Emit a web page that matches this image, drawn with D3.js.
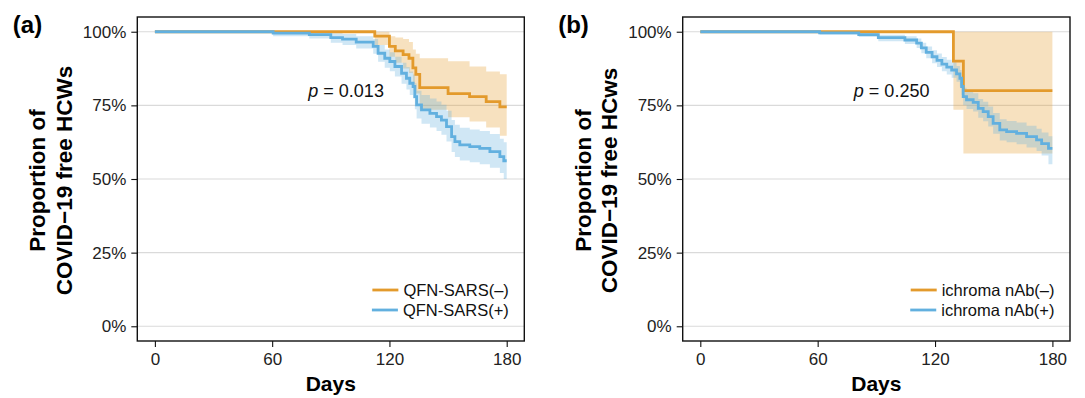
<!DOCTYPE html>
<html>
<head>
<meta charset="utf-8">
<script src="https://cdn.jsdelivr.net/npm/d3@7"></script>
<style>
  body { margin: 0; background: #fff; }
  svg { display: block; }
  text { font-family: 'Liberation Sans', Arial, sans-serif; }
</style>
</head>
<body>
<svg id="chart" width="1085" height="398"></svg>
<script>
// ---- data ----
const dayTicks = [0, 60, 120, 180];
const pctTicks = [0, 0.25, 0.5, 0.75, 1];
const groupNamesA = ['QFN-SARS(–)', 'QFN-SARS(+)'];
const groupNamesB = ['ichroma nAb(–)', 'ichroma nAb(+)'];
const pValues = ['0.013', '0.250'];

// (a) QFN-SARS(-)
const qfnNegDays  = [0, 112.5, 120, 123, 127, 130, 132, 133.5, 135.5, 150, 161, 169.5, 176.5];
const qfnNegSurv  = [1, .985, .95, .935, .922, .91, .877, .855, .81, .79, .78, .763, .745];
const qfnNegLower = [1, .955, .915, .895, .875, .86, .82, .79, .735, .71, .695, .675, .647];
const qfnNegUpper = [1, 1, .985, .98, .975, .965, .94, .925, .91, .90, .882, .865, .856];

// (a) QFN-SARS(+)
const qfnPosDays  = [0, 60.5, 79, 90, 96, 103, 111.7, 114.2, 117.6, 120.2, 122.8, 126.2, 128.7, 130.4, 132.1,
                     133, 133.9, 136.4, 140.7, 144.1, 146.6, 149.2, 151.8, 153.5, 156, 161.1, 166.2, 171.4, 176.5, 178.5];
const qfnPosSurv  = [1, .995, .99, .98, .975, .965, .95, .927, .91, .899, .882, .859, .842, .825, .814,
                     .78, .752, .735, .723, .712, .70, .678, .644, .627, .616, .61, .604, .593, .576, .562];
const qfnPosLower = [1, .985, .977, .963, .955, .943, .925, .898, .878, .866, .848, .823, .804, .785, .773,
                     .737, .705, .688, .675, .663, .65, .627, .592, .575, .563, .557, .55, .538, .52, .50];
const qfnPosUpper = [1, 1, 1, .995, .992, .985, .975, .955, .94, .93, .915, .895, .88, .865, .855,
                     .825, .80, .785, .773, .763, .752, .732, .70, .684, .674, .668, .663, .653, .637, .625];

// (b) ichroma nAb(-)
const nabNegDays  = [0, 129.4, 134.5];
const nabNegSurv  = [1, .9, .8];
const nabNegLower = [1, .735, .587];
const nabNegUpper = [1, 1, 1];

// (b) ichroma nAb(+)
const nabPosDays  = [0, 61, 81, 91, 104.6, 110.6, 113, 115.5, 118.5, 121, 123.5, 126, 128.5, 131, 132.7,
                     133.6, 134.4, 136.1, 139.5, 142.1, 144.6, 147.2, 149.7, 153.1, 156.6, 161.7, 166.8, 171.9, 174.5, 178];
const nabPosSurv  = [1, .996, .99, .98, .972, .961, .945, .93, .915, .903, .89, .88, .87, .857, .842,
                     .814, .78, .769, .76, .74, .729, .712, .689, .667, .661, .655, .644, .633, .62, .604];
const nabPosLower = [1, .99, .982, .968, .958, .945, .927, .91, .893, .88, .866, .855, .844, .83, .814,
                     .785, .75, .738, .729, .708, .696, .678, .654, .631, .625, .618, .607, .595, .58, .55];
const nabPosUpper = [1, 1, .998, .99, .985, .977, .963, .95, .937, .926, .914, .905, .896, .884, .87,
                     .843, .81, .80, .791, .772, .762, .746, .724, .703, .697, .692, .681, .671, .658, .645];

const colors = ['#E39A2C', '#62B0DF'];
const followUp = 180;

// zip the columns into step rows, closing each curve at end of follow-up
function steps(days, surv, lower, upper) {
  const rows = days.map((d, i) => ({ day: d, s: surv[i], lo: lower[i], hi: upper[i] }));
  rows.push({ ...rows[rows.length - 1], day: followUp });
  return rows;
}

const panels = [
  { tag: '(a)', left: 137.3, right: 524.3, yTitle: ['Proportion of', 'COVID−19 free HCWs'],
    names: groupNamesA, p: pValues[0],
    groups: [steps(qfnNegDays, qfnNegSurv, qfnNegLower, qfnNegUpper),
             steps(qfnPosDays, qfnPosSurv, qfnPosLower, qfnPosUpper)] },
  { tag: '(b)', left: 682.7, right: 1070, yTitle: ['Proportion of', 'COVID−19 free HCws'],
    names: groupNamesB, p: pValues[1],
    groups: [steps(nabNegDays, nabNegSurv, nabNegLower, nabNegUpper),
             steps(nabPosDays, nabPosSurv, nabPosLower, nabPosUpper)] },
];

const svg = d3.select('#chart');
const plotTop = 17, plotBottom = 341;
const y = d3.scaleLinear().domain([-0.05, 1.05]).range([plotBottom, plotTop]);

panels.forEach(p => {
  const x = d3.scaleLinear().domain([-9, 189]).range([p.left, p.right]);
  const g = svg.append('g');

  // horizontal gridlines
  g.append('g').attr('class', 'grid')
    .selectAll('line').data(pctTicks).join('line')
    .attr('x1', p.left).attr('x2', p.right)
    .attr('y1', d => y(d)).attr('y2', d => y(d))
    .attr('stroke', '#dadada').attr('stroke-width', 1.1);

  const area = d3.area().curve(d3.curveStepAfter)
    .x(d => x(d.day)).y0(d => y(d.lo)).y1(d => y(d.hi));
  const line = d3.line().curve(d3.curveStepAfter)
    .x(d => x(d.day)).y(d => y(d.s));

  p.groups.forEach((grp, i) => {
    g.append('path').attr('d', area(grp))
      .attr('fill', colors[i]).attr('fill-opacity', 0.3);
  });
  p.groups.forEach((grp, i) => {
    g.append('path').attr('d', line(grp))
      .attr('fill', 'none').attr('stroke', colors[i])
      .attr('stroke-width', 2.8);
  });

  // panel box
  g.append('rect')
    .attr('x', p.left).attr('y', plotTop)
    .attr('width', p.right - p.left).attr('height', plotBottom - plotTop)
    .attr('fill', 'none').attr('stroke', '#111').attr('stroke-width', 1.4);

  // axes
  const xAxis = g.append('g')
    .attr('transform', `translate(0,${plotBottom})`)
    .call(d3.axisBottom(x).tickValues(dayTicks).tickSize(6).tickPadding(6));
  const yAxis = g.append('g')
    .attr('transform', `translate(${p.left},0)`)
    .call(d3.axisLeft(y).tickValues(pctTicks).tickFormat(d3.format('.0%')).tickSize(6).tickPadding(5));
  [xAxis, yAxis].forEach(ax => {
    ax.select('.domain').remove();
    ax.attr('font-family', null).attr('font-size', null);
    ax.selectAll('line').attr('stroke', '#111').attr('stroke-width', 1.1);
    ax.selectAll('text').attr('fill', '#222').style('font-size', '17px');
  });

  // axis titles
  g.append('text')
    .attr('x', (p.left + p.right) / 2).attr('y', 391)
    .attr('text-anchor', 'middle')
    .style('font-size', '21px').style('font-weight', 'bold')
    .text('Days');
  p.yTitle.forEach((t, i) => {
    g.append('text')
      .attr('transform', `translate(${p.left - 92 + i * 26.5},180.5) rotate(-90)`)
      .attr('text-anchor', 'middle')
      .style('font-size', '22.5px').style('font-weight', 'bold')
      .text(t);
  });

  // panel tag
  g.append('text')
    .attr('x', p.left - 124.5).attr('y', 33)
    .style('font-size', '24px').style('font-weight', 'bold')
    .text(p.tag);

  // p-value
  const pt = g.append('text')
    .attr('x', x(78.5)).attr('y', y(0.8))
    .attr('dy', '0.35em')
    .style('font-size', '18px').attr('fill', '#111');
  pt.append('tspan').style('font-style', 'italic').text('p');
  pt.append('tspan').text(` = ${p.p}`);

  // legend (bottom-right inside the panel)
  const leg = g.append('g');
  p.names.forEach((name, i) => {
    const ly = 290 + i * 20;
    const txt = leg.append('text')
      .attr('x', p.right - 15.5).attr('y', ly)
      .attr('dy', '0.35em').attr('text-anchor', 'end')
      .style('font-size', '16.5px').attr('fill', '#111')
      .text(name);
    const w = txt.node().getComputedTextLength();
    const kx = p.right - 15.5 - w - 5;
    leg.append('line')
      .attr('x1', kx - 26).attr('x2', kx)
      .attr('y1', ly).attr('y2', ly)
      .attr('stroke', colors[i]).attr('stroke-width', 2.8);
  });
});
</script>
</body>
</html>
